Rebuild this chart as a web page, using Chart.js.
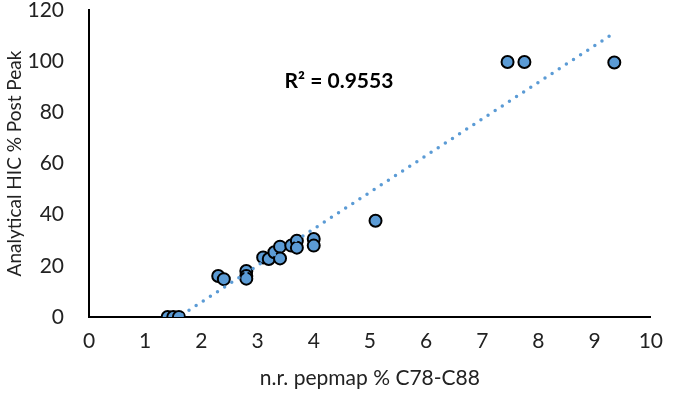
<!DOCTYPE html>
<html>
<head>
<meta charset="utf-8">
<script src="https://cdn.jsdelivr.net/npm/chart.js@4.4.1/dist/chart.umd.min.js"></script>
<style>
  html, body { margin: 0; padding: 0; background: #fff; }
  #wrap { width: 675px; height: 397px; }
</style>
</head>
<body>
<div id="wrap"><canvas id="grafico"></canvas></div>
<script>
// valores
var pepmap = [1.4, 1.5, 1.6, 2.3, 2.4, 2.8, 2.8, 2.8, 3.1, 3.2, 3.3, 3.4, 3.4, 3.6, 3.7, 3.7, 4.0, 4.0, 5.1, 7.45, 7.75, 9.35];
var hicPost = [0, 0, 0, 16, 14.8, 18, 16, 15, 23.3, 22.7, 25.3, 27.5, 22.9, 27.9, 29.8, 27.1, 30.5, 27.9, 37.6, 99.7, 99.7, 99.5];
var xTicks = [0, 1, 2, 3, 4, 5, 6, 7, 8, 9, 10];
var yTicks = [0, 20, 40, 60, 80, 100, 120];
var rotuloR2 = "R\u00B2 = 0.9553";

var azul = "#5b9bd5";
var fonte = "Lato, 'Open Sans', sans-serif";

var pontos = [];
for (var i = 0; i < pepmap.length; i++) {
  pontos.push({ x: pepmap[i], y: hicPost[i] });
}

// linha de tendência (mínimos quadrados)
var n = pepmap.length, sx = 0, sy = 0, sxy = 0, sxx = 0;
for (var i = 0; i < n; i++) {
  sx += pepmap[i]; sy += hicPost[i];
  sxy += pepmap[i] * hicPost[i]; sxx += pepmap[i] * pepmap[i];
}
var incl = (n * sxy - sx * sy) / (n * sxx - sx * sx);
var inter = (sy - incl * sx) / n;
var xMin = Math.min.apply(null, pepmap), xMax = Math.max.apply(null, pepmap);
var tendencia = [
  { x: xMin, y: incl * xMin + inter },
  { x: xMax, y: incl * xMax + inter }
];

var rotuloPlugin = {
  id: "rotuloR2",
  afterDatasetsDraw: function (chart) {
    var ctx = chart.ctx;
    var px = chart.scales.x.getPixelForValue(4.45);
    var py = chart.scales.y.getPixelForValue(92);
    ctx.save();
    ctx.font = "bold 21px " + fonte;
    ctx.fillStyle = "#000";
    ctx.textAlign = "center";
    ctx.textBaseline = "middle";
    ctx.fillText(rotuloR2, px, py);
    ctx.restore();
  }
};

var config = {
  type: "scatter",
  data: {
    datasets: [
      {
        label: "pontos",
        data: pontos,
        backgroundColor: azul,
        borderColor: "#000",
        borderWidth: 2,
        pointRadius: 6,
        pointHoverRadius: 6,
        order: 2
      },
      {
        label: "tendencia",
        type: "line",
        data: tendencia,
        borderColor: azul,
        borderWidth: 3.5,
        borderDash: [0, 8.5],
        borderCapStyle: "round",
        pointRadius: 0,
        fill: false,
        clip: true,
        order: 1
      }
    ]
  },
  options: {
    responsive: true,
    maintainAspectRatio: false,
    animation: false,
    layout: { padding: { top: 10, right: 14, left: 0, bottom: 0 } },
    plugins: {
      legend: { display: false },
      tooltip: { enabled: false }
    },
    scales: {
      x: {
        type: "linear",
        min: 0,
        max: 10,
        afterBuildTicks: function (s) { s.ticks = xTicks.map(function (v) { return { value: v }; }); },
        afterFit: function (s) { s.height = 80; },
        grid: { display: false, drawTicks: false },
        border: { display: true, color: "#000", width: 2 },
        ticks: { color: "#222", padding: 12, font: { size: 21, family: fonte } },
        title: {
          display: true,
          text: "n.r. pepmap % C78-C88",
          color: "#222",
          font: { size: 21, family: fonte },
          padding: { top: 0, bottom: 6 }
        }
      },
      y: {
        type: "linear",
        min: 0,
        max: 120,
        afterBuildTicks: function (s) { s.ticks = yTicks.map(function (v) { return { value: v }; }); },
        afterFit: function (s) { s.width = 89; s.paddingTop = 0; s.paddingBottom = 0; },
        grid: { display: false, drawTicks: false },
        border: { display: true, color: "#000", width: 2 },
        ticks: { color: "#222", padding: 25, font: { size: 21, family: fonte } },
        title: {
          display: true,
          text: "Analytical HIC % Post Peak",
          color: "#222",
          font: { size: 19, family: fonte },
          padding: { top: 3, bottom: 0 }
        }
      }
    }
  },
  plugins: [rotuloPlugin]
};

var grafico = new Chart(document.getElementById("grafico"), config);
</script>
</body>
</html>
